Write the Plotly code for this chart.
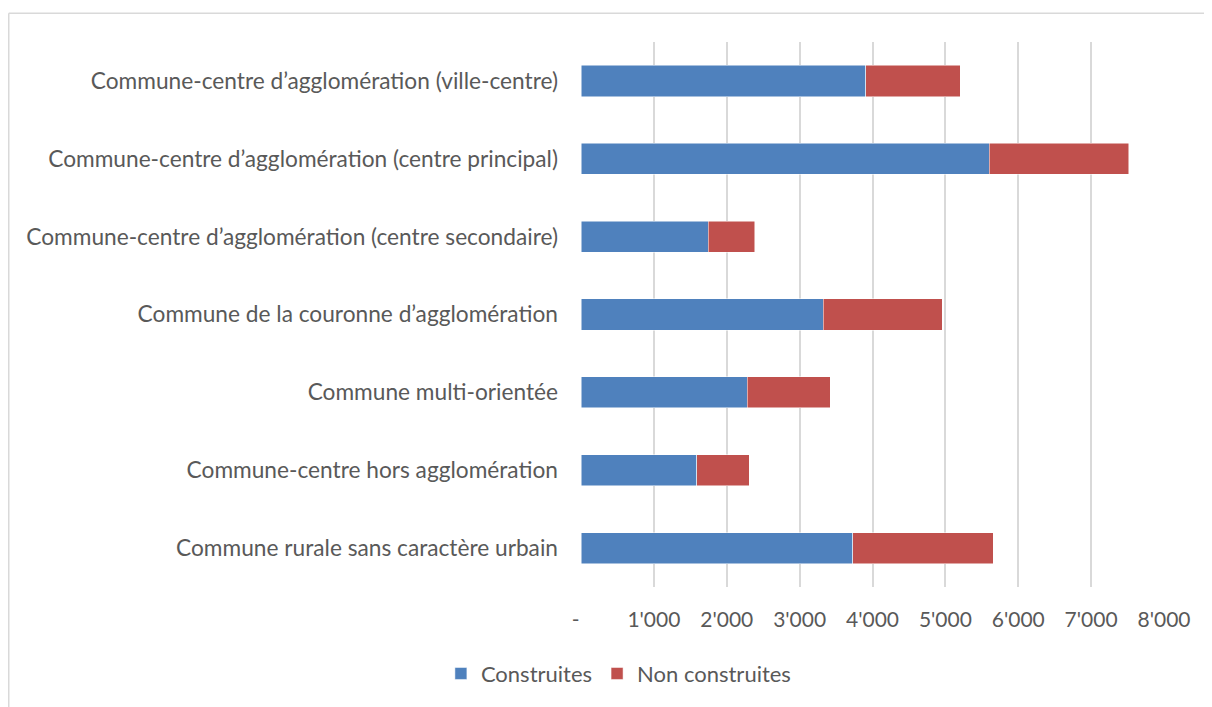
import plotly.graph_objects as go

# categories listed top to bottom as in the source chart
categories = [
    "Commune-centre d’agglomération (ville-centre)",
    "Commune-centre d’agglomération (centre principal)",
    "Commune-centre d’agglomération (centre secondaire)",
    "Commune de la couronne d’agglomération",
    "Commune multi-orientée",
    "Commune-centre hors agglomération",
    "Commune rurale sans caractère urbain",
]
construites = [3905, 5601, 1748, 3323, 2283, 1591, 3727]
non_construites = [1302, 1916, 635, 1632, 1140, 719, 1927]

tick_vals = [0, 1000, 2000, 3000, 4000, 5000, 6000, 7000, 8000]
tick_text = ["-\u00a0\u00a0", "1'000", "2'000", "3'000", "4'000",
             "5'000", "6'000", "7'000", "8'000"]

# page body adds an 8px margin, so the figure is sized to fit inside it
W, H = 1204, 699
L, R, T, B = 573, 48, 34, 116
FONT = "Lato, Calibri, sans-serif"
TXT = "#595959"

fig = go.Figure()
fig.add_trace(go.Bar(
    y=categories, x=construites, name="Construites", orientation="h",
    marker=dict(color="#4F81BD", line=dict(color="#FFFFFF", width=0.5)),
))
fig.add_trace(go.Bar(
    y=categories, x=non_construites, name="Non construites", orientation="h",
    marker=dict(color="#C0504D", line=dict(color="#FFFFFF", width=0.5)),
))

# outer chart frame (left and top edges visible in the crop)
pw, ph = W - L - R, H - T - B
fx = (0.75 - L) / pw
fy = 1 + (T - 5) / ph
frame = dict(color="#D9D9D9", width=1.5)
fig.add_shape(type="line", xref="paper", yref="paper",
              x0=fx, x1=2, y0=fy, y1=fy, line=frame)
fig.add_shape(type="line", xref="paper", yref="paper",
              x0=fx, x1=fx, y0=fy, y1=-2, line=frame)

fig.update_layout(
    width=W, height=H,
    barmode="stack", bargap=0.6,
    margin=dict(l=L, r=R, t=T, b=B),
    paper_bgcolor="white", plot_bgcolor="white",
    font=dict(family=FONT, size=22, color=TXT),
    showlegend=True,
    legend=dict(orientation="h", x=0.065, xanchor="center",
                y=-0.159, yanchor="middle",
                font=dict(family=FONT, size=22, color=TXT),
                itemwidth=30, traceorder="normal"),
)
fig.update_xaxes(
    range=[0, 8000], tickvals=tick_vals, ticktext=tick_text,
    showgrid=True, gridcolor="#D9D9D9", gridwidth=1.5,
    zeroline=False, showline=False,
    ticks="", ticklabelstandoff=18,
    tickfont=dict(family=FONT, size=21, color=TXT),
)
fig.update_yaxes(
    autorange="reversed", showgrid=False, zeroline=False, showline=False,
    ticks="", ticklabelstandoff=22,
    tickfont=dict(family=FONT, size=22.7, color=TXT),
)

fig.write_html("out.html")
